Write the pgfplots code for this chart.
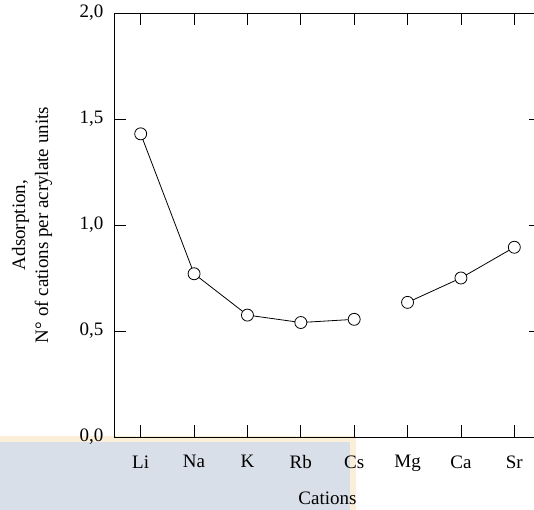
\documentclass[border=0pt]{standalone}
\usepackage{fontspec}
\setmainfont{Liberation Serif}
\usepackage{pgfplots}
\pgfplotsset{compat=1.18}

\definecolor{wmbeige}{HTML}{FCEFD9}
\definecolor{wmblue}{HTML}{D8DFE9}

\begin{document}
\fontsize{19bp}{23bp}\selectfont
\begin{tikzpicture}
\useasboundingbox (0,0) rectangle (534bp,510bp);
% faint watermark band at the bottom
\fill[wmbeige] (0,0) rectangle (356bp,74bp);
\fill[wmblue] (0,0) rectangle (350bp,68bp);
\begin{axis}[
    at={(114bp,73bp)}, anchor=south west,
    scale only axis,
    width=427bp, height=424bp,
    xmin=-0.5, xmax=7.5,
    ymin=0, ymax=2,
    xtick={0,1,2,3,4,5,6,7},
    xticklabels={Li,Na,K,Rb,Cs,Mg,Ca,Sr},
    ytick={0,0.5,1,1.5,2},
    tick align=inside,
    major tick length=12bp,
    tick style={black, line width=0.8pt},
    axis line style={line width=0.9pt},
    /pgf/number format/.cd, fixed, fixed zerofill, precision=1, use comma, assume math mode=true,
    /pgfplots/.cd,
    xticklabel style={yshift=-12bp},
    yticklabel style={xshift=-4bp},
    xlabel={Cations},
    xlabel style={at={(axis description cs:0.5,0)}, anchor=base, yshift=-67bp},
    ylabel={Adsorption,\\N° of cations per acrylate units},
    ylabel style={align=center, at={(axis description cs:-0.192,0.5)}, anchor=center},
]
\addplot[black, line width=0.8pt, mark=*, mark size=6bp,
         mark options={fill=white, draw=black, line width=0.8pt}]
  coordinates {(0,1.43) (1,0.77) (2,0.575) (3,0.54) (4,0.555)};
\addplot[black, line width=0.8pt, mark=*, mark size=6bp,
         mark options={fill=white, draw=black, line width=0.8pt}]
  coordinates {(5,0.635) (6,0.75) (7,0.895)};
\end{axis}
\end{tikzpicture}
\end{document}
